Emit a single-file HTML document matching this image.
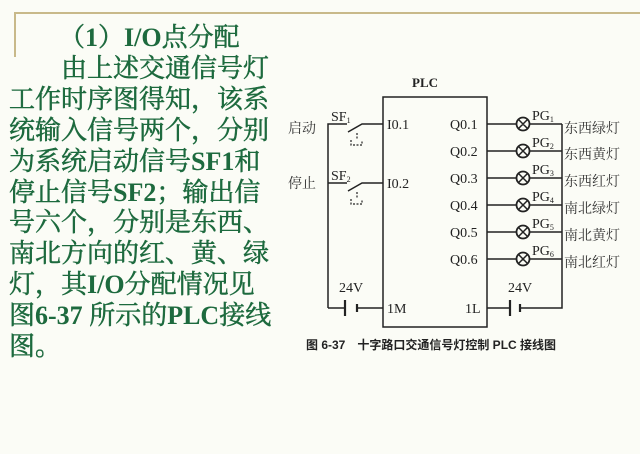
<!DOCTYPE html>
<html><head><meta charset="utf-8"><style>
body{margin:0;background:#fbfcf6;}
.wrap{position:relative;width:640px;height:454px;overflow:hidden;background:#fbfcf6;}
.txt{position:absolute;left:9px;top:23px;width:280px;font-family:"Liberation Serif","Noto Serif CJK SC",serif;font-size:26px;line-height:30.9px;color:#1d6a3e;font-weight:normal;-webkit-text-stroke:0.5px #1d6a3e;white-space:nowrap;}
.txt b{font-weight:bold;-webkit-text-stroke:0;}
svg{position:absolute;left:0;top:0;}
</style></head><body><div class="wrap">
<svg width="640" height="454" viewBox="0 0 640 454">
<path d="M15 57 V13 H640" stroke="#c8b98a" stroke-width="2" fill="none"/>
<g stroke="#222" stroke-width="1.5" fill="none">
<rect x="383" y="97" width="104" height="230"/>
<path d="M328 308 V124 H347 M348 132 L362 124 H383"/>
<path d="M328 183 H347 M348 191 L362 183 H383"/>
<path d="M357 133 V139 M351 140 V145 H362 V140 M357 192 V198 M351 199 V204 H362 V199" stroke-width="1.2" stroke-dasharray="2 1.5"/>
<path d="M328 308 H345 M357 308 H383"/>
<path d="M345 300 V316 M357 304 V312" stroke-width="2.2"/>
<path d="M487 308 H510 M520 308 H562 V124"/>
<path d="M510 300 V316 M520 304 V312" stroke-width="2.2"/>
</g>
<g stroke="#222" stroke-width="1.5" fill="none">
<path d="M487 124 H562 M487 151 H562 M487 178 H562 M487 205 H562 M487 232 H562 M487 259 H562"/>
</g>
<g stroke="#222" stroke-width="1.8" fill="#fbfcf6">
<circle cx="523" cy="124" r="6.5"/><circle cx="523" cy="151" r="6.5"/><circle cx="523" cy="178" r="6.5"/>
<circle cx="523" cy="205" r="6.5"/><circle cx="523" cy="232" r="6.5"/><circle cx="523" cy="259" r="6.5"/>
</g>
<g stroke="#222" stroke-width="1.5">
<path d="M518.5 119.5l9 9m0-9l-9 9 M518.5 146.5l9 9m0-9l-9 9 M518.5 173.5l9 9m0-9l-9 9 M518.5 200.5l9 9m0-9l-9 9 M518.5 227.5l9 9m0-9l-9 9 M518.5 254.5l9 9m0-9l-9 9"/>
</g>
<g font-family="Liberation Serif, serif" font-size="14" fill="#222">
<text x="425" y="87" text-anchor="middle" font-weight="bold" font-size="13">PLC</text>
<text x="387" y="129">I0.1</text><text x="387" y="188">I0.2</text>
<text x="387" y="313">1M</text><text x="465" y="313">1L</text>
<text x="450" y="129">Q0.1</text><text x="450" y="156">Q0.2</text><text x="450" y="183">Q0.3</text>
<text x="450" y="210">Q0.4</text><text x="450" y="237">Q0.5</text><text x="450" y="264">Q0.6</text>
<text x="331" y="121">SF<tspan font-size="8" dy="2">1</tspan></text>
<text x="331" y="180">SF<tspan font-size="8" dy="2">2</tspan></text>
<text x="339" y="292">24V</text><text x="508" y="292">24V</text>
<text x="532" y="120">PG<tspan font-size="8" dy="2">1</tspan></text>
<text x="532" y="147">PG<tspan font-size="8" dy="2">2</tspan></text>
<text x="532" y="174">PG<tspan font-size="8" dy="2">3</tspan></text>
<text x="532" y="201">PG<tspan font-size="8" dy="2">4</tspan></text>
<text x="532" y="228">PG<tspan font-size="8" dy="2">5</tspan></text>
<text x="532" y="255">PG<tspan font-size="8" dy="2">6</tspan></text>
</g>
<g font-family="Liberation Serif, Noto Serif CJK SC, serif" font-size="14" fill="#333">
<text x="288" y="133">启动</text><text x="288" y="188">停止</text>
<text x="564" y="133">东西绿灯</text><text x="564" y="159">东西黄灯</text><text x="564" y="186">东西红灯</text>
<text x="564" y="213">南北绿灯</text><text x="564" y="240">南北黄灯</text><text x="564" y="267">南北红灯</text>
<text x="306" y="349" font-size="12" font-weight="bold" font-family="Liberation Sans, Noto Sans CJK SC, sans-serif" fill="#222">图 6-37　十字路口交通信号灯控制 PLC 接线图</text>
</g>
</svg>
<div class="txt"><span style="padding-left:50px">（<b>1</b>）<b>I/O</b>点分配</span><br><span style="padding-left:52px">由上述交通信号灯</span><br>工作时序图得知，该系<br>统输入信号两个，分别<br>为系统启动信号<b>SF1</b>和<br>停止信号<b>SF2</b>；输出信<br>号六个，分别是东西、<br>南北方向的红、黄、绿<br>灯，其<b>I/O</b>分配情况见<br>图<b>6-37</b> 所示的<b>PLC</b>接线<br>图。</div>
</div></body></html>
